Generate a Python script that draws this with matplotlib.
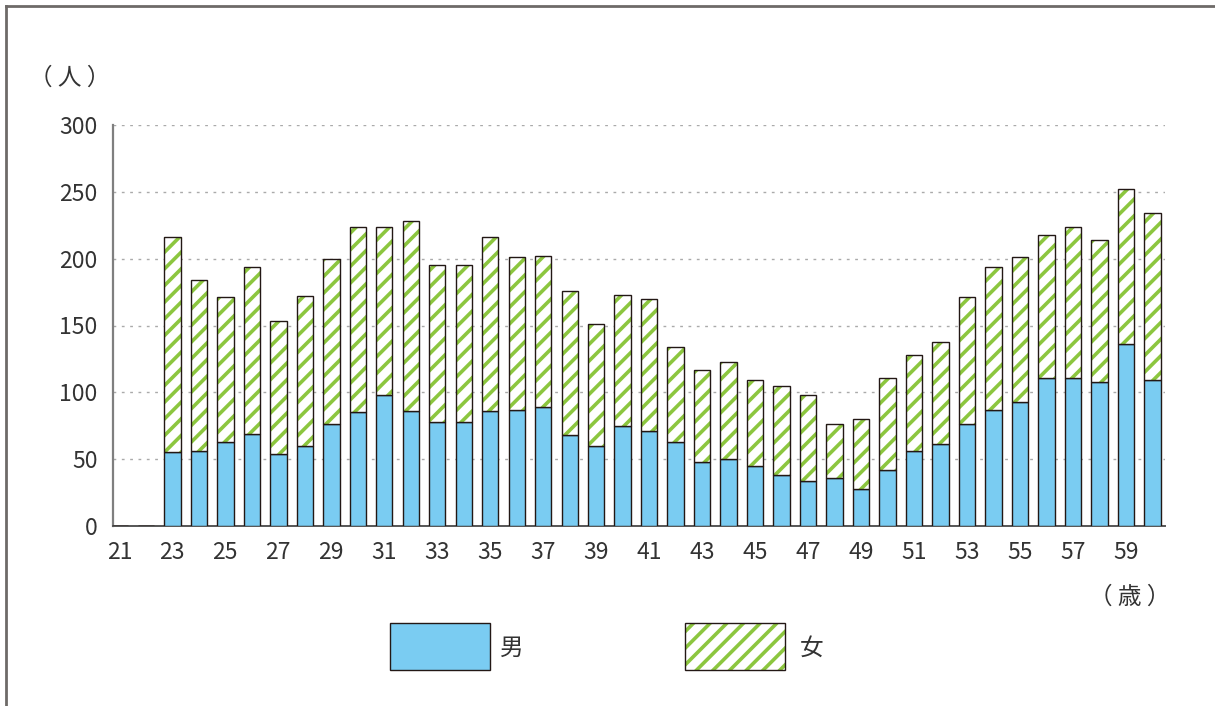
import numpy as np
import matplotlib.pyplot as plt
from matplotlib.patches import Rectangle
from matplotlib.lines import Line2D

plt.rcParams['font.family'] = ['Noto Sans CJK JP', 'DejaVu Sans']
plt.rcParams['hatch.linewidth'] = 2.6

ages = np.arange(21, 61)
male = [0, 0, 55, 56, 63, 69, 54, 60, 76, 85, 98, 86, 78, 78, 86, 87, 89, 68, 60,
        75, 71, 63, 48, 50, 45, 38, 34, 36, 28, 42, 56, 61, 76, 87, 93, 111, 111,
        108, 136, 109]
total = [0, 0, 216, 184, 171, 194, 153, 172, 200, 224, 224, 228, 195, 195, 216,
         201, 202, 176, 151, 173, 170, 134, 117, 123, 109, 105, 98, 76, 80, 111,
         128, 138, 171, 194, 201, 218, 224, 214, 252, 234]
female = [t - m for t, m in zip(total, male)]
xticks = np.arange(21, 60, 2)

blue = '#7accf2'
green = '#8cc63f'
edge = '#231815'

fig = plt.figure(figsize=(12.15, 7.06), dpi=100)
ax = fig.add_axes([113 / 1215, 1 - 526 / 706, (1165 - 113) / 1215, (526 - 125) / 706])

w = 0.62
ax.bar(ages, male, width=w, color=blue, edgecolor=edge, linewidth=1.0, zorder=3)
ax.bar(ages, female, width=w, bottom=male, color='white', edgecolor=green,
       hatch='//', linewidth=0, zorder=3)
ax.bar(ages, female, width=w, bottom=male, fill=False, edgecolor=edge,
       linewidth=1.0, zorder=4)

ax.set_ylim(0, 300)
ax.set_xlim(20.76, 60.47)
ax.set_yticks(np.arange(0, 301, 50))
ax.set_xticks(xticks)
ax.tick_params(length=0, labelsize=16.5, colors='#333333', pad=11)
ax.grid(axis='y', linestyle=(0, (2, 4)), color='#aaaaaa', linewidth=1.0, zorder=0)
for s in ['top', 'right']:
    ax.spines[s].set_visible(False)
ax.spines['left'].set_color('#7f7f7f')
ax.spines['left'].set_linewidth(1.6)
ax.spines['bottom'].set_color('#555555')
ax.spines['bottom'].set_linewidth(1.4)

fig.text(70 / 1215, 1 - 78 / 706, '（ 人 ）', fontsize=17, color='#333333',
         ha='center', va='center')
fig.text(1130 / 1215, 1 - 597 / 706, '（ 歳 ）', fontsize=17, color='#333333',
         ha='center', va='center')

# legend
fig.patches.append(Rectangle((390 / 1215, 1 - 670 / 706), 100 / 1215, 47 / 706,
                             transform=fig.transFigure, facecolor=blue,
                             edgecolor=edge, linewidth=1.0))
fig.patches.append(Rectangle((685 / 1215, 1 - 670 / 706), 100 / 1215, 47 / 706,
                             transform=fig.transFigure, facecolor='white',
                             edgecolor=green, hatch='//', linewidth=0))
fig.patches.append(Rectangle((685 / 1215, 1 - 670 / 706), 100 / 1215, 47 / 706,
                             transform=fig.transFigure, fill=False,
                             edgecolor=edge, linewidth=1.0))
fig.text(512 / 1215, 1 - 648 / 706, '男', fontsize=17, color='#333333',
         ha='center', va='center')
fig.text(812 / 1215, 1 - 648 / 706, '女', fontsize=17, color='#333333',
         ha='center', va='center')

# outer frame
fig.lines.append(Line2D([6 / 1215, 6 / 1215], [0, 1 - 6 / 706], transform=fig.transFigure,
                        color='#6e6a68', linewidth=2))
fig.lines.append(Line2D([6 / 1215, 1], [1 - 6 / 706, 1 - 6 / 706], transform=fig.transFigure,
                        color='#6e6a68', linewidth=2))

fig.savefig('out.png', dpi=100)
